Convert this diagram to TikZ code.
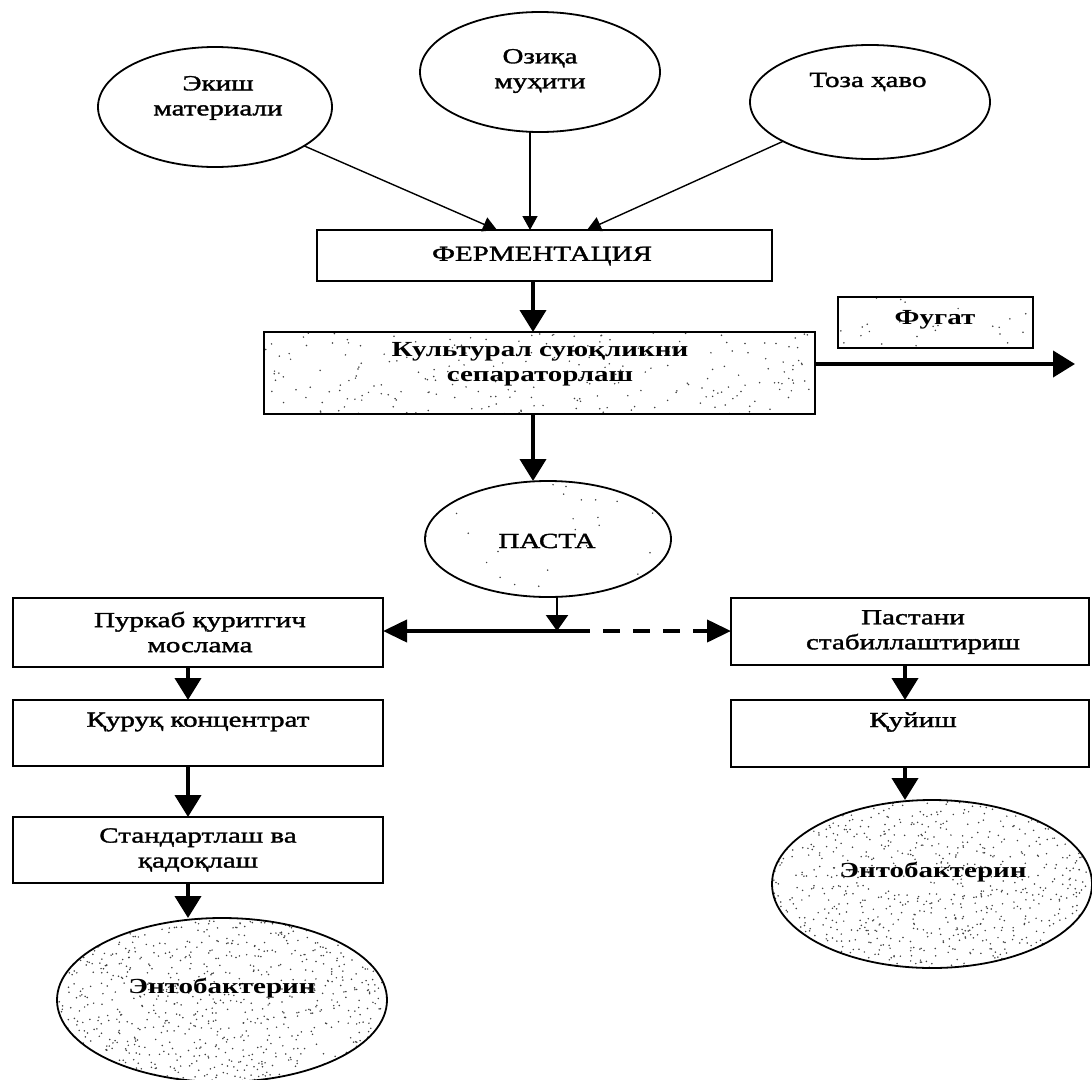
\documentclass[tikz,border=0pt]{standalone}
\usepackage{fontspec}
\setmainfont{Liberation Serif}[FakeStretch=1.35]
\newfontfamily\regfont{Liberation Serif}[FakeStretch=1.35, FakeBold=1.6]
\usetikzlibrary{arrows.meta,shapes.geometric}
\begin{document}
\begin{tikzpicture}[x=1pt,y=-1pt,
  every node/.style={inner sep=0pt, outer sep=0pt},
  box/.style={draw, line width=1.8pt, rectangle},
  oval/.style={draw, line width=1.8pt, ellipse},
  lbl/.style={align=center, font=\fontsize{21.5}{25}\regfont},
  blbl/.style={align=center, font=\fontsize{21.5}{25}\selectfont\bfseries},
  thinarr/.style={line width=1.4pt, -{Triangle[length=14pt,width=15pt]}},
  thickarr/.style={line width=4pt, -{Triangle[length=22pt,width=26pt]}},
  midarr/.style={line width=2.2pt, -{Triangle[length=16pt,width=22pt]}},
  dotc/.style={fill=black!75}]
\useasboundingbox (0,0) rectangle (1092,1079);

% stipple
\pgfmathsetseed{12}
\begin{scope}
\clip (264,332) rectangle (815,414);
\foreach \i in {1,...,240} \fill[dotc] ({539.5+275.5*rand},{373+41*rand}) circle[radius=0.85];
\end{scope}
\begin{scope}
\clip (838,297) rectangle (1033,348);
\foreach \i in {1,...,25} \fill[dotc] ({935.5+97.5*rand},{322.5+25.5*rand}) circle[radius=0.85];
\end{scope}
\begin{scope}
\clip (548,539) ellipse [x radius=123, y radius=58];
\foreach \i in {1,...,30} \fill[dotc] ({548+123*rand},{539+58*rand}) circle[radius=0.85];
\end{scope}
\begin{scope}
\clip (222,1000) ellipse [x radius=165, y radius=82];
\foreach \i in {1,...,900} \fill[dotc] ({222+165*rand},{1000+82*rand}) circle[radius=0.85];
\end{scope}
\begin{scope}
\clip (932,884) ellipse [x radius=160, y radius=84];
\foreach \i in {1,...,900} \fill[dotc] ({932+160*rand},{884+84*rand}) circle[radius=0.85];
\end{scope}

% top ellipses
\node[oval, minimum width=234pt, minimum height=120pt] (ekish) at (215,107) {};
\node[lbl] (ekishT) at (218,98) {Экиш\\материали};
\node[oval, minimum width=240pt, minimum height=120pt] (oziqa) at (540,72) {};
\node[lbl] (oziqaT) at (540,71) {Озиқа\\муҳити};
\node[oval, minimum width=240pt, minimum height=114pt] (toza) at (870,102) {};
\node[lbl] (tozaT) at (868,82) {Тоза ҳаво};

% boxes
\node[box, minimum width=455pt, minimum height=51pt] (ferm) at (544.5,255.5) {};
\node[lbl] (fermT) at (542,256) {ФЕРМЕНТАЦИЯ};
\node[box, minimum width=551pt, minimum height=82pt] (kult) at (539.5,373) {};
\node[blbl] (kultT) at (540,364) {Культурал суюқликни\\сепараторлаш};
\node[box, minimum width=195pt, minimum height=51pt] (fugat) at (935.5,322.5) {};
\node[blbl] (fugatT) at (935,320) {Фугат};
\node[oval, minimum width=246pt, minimum height=116pt] (pasta) at (548,539) {};
\node[lbl] (pastaT) at (547,541) {ПАСТА};

\node[box, minimum width=370pt, minimum height=69pt] (purk) at (198,632.5) {};
\node[lbl] (purkT) at (200,632) {Пуркаб қуритгич\\мослама};
\node[box, minimum width=370pt, minimum height=66pt] (quruq) at (198,733) {};
\node[lbl] (quruqT) at (198,722) {Қуруқ концентрат};
\node[box, minimum width=370pt, minimum height=66pt] (stand) at (198,850) {};
\node[lbl] (standT) at (198,850) {Стандартлаш ва\\қадоқлаш};
\node[oval, minimum width=330pt, minimum height=164pt] (entoL) at (222,1000) {};
\node[blbl] (entoLT) at (222,988) {Энтобактерин};

\node[box, minimum width=358pt, minimum height=67pt] (pastani) at (910,631.5) {};
\node[lbl] (pastaniT) at (913,632) {Пастани\\стабиллаштириш};
\node[box, minimum width=358pt, minimum height=67pt] (quyish) at (910,733.5) {};
\node[lbl] (quyishT) at (913,722) {Қуйиш};
\node[oval, minimum width=320pt, minimum height=168pt] (entoR) at (932,884) {};
\node[blbl] (entoRT) at (933,872) {Энтобактерин};

% coordinates
\coordinate (f1) at (497,230);
\coordinate (f2) at (530,230);
\coordinate (f3) at (587,230);
\coordinate (cx) at (533,0);
\coordinate (fugEnd) at (1075,364);
\coordinate (br) at (557,631);
\coordinate (brR) at (573,631);
\coordinate (lx) at (188,0);
\coordinate (rx) at (905,0);

% arrows
\draw[thinarr] (ekish) -- (f1);
\draw[thinarr] ([xshift=-10pt]oziqa.south) -- (f2);
\draw[thinarr] (toza) -- (f3);
\draw[thickarr] (ferm.south -| cx) -- (kult.north -| cx);
\draw[thickarr] (kult.east |- fugEnd) -- (fugEnd);
\draw[thickarr] (kult.south -| cx) -- (pasta.north -| cx);
\draw[midarr] ([xshift=9pt]pasta.south) -- (br);
\draw[line width=4pt, -{Triangle[length=24pt,width=22pt]}] (brR) -- (purk.east |- br);
\draw[line width=4pt, dash pattern=on 17pt off 13pt, -{Triangle[length=24pt,width=22pt]}] (brR) -- (pastani.west |- br);
\draw[thickarr] (purk.south -| lx) -- (quruq.north -| lx);
\draw[thickarr] (quruq.south -| lx) -- (stand.north -| lx);
\draw[thickarr] (stand.south -| lx) -- (entoL.north -| lx);
\draw[thickarr] (pastani.south -| rx) -- (quyish.north -| rx);
\draw[thickarr] (quyish.south -| rx) -- (entoR.north -| rx);
\end{tikzpicture}
\end{document}
